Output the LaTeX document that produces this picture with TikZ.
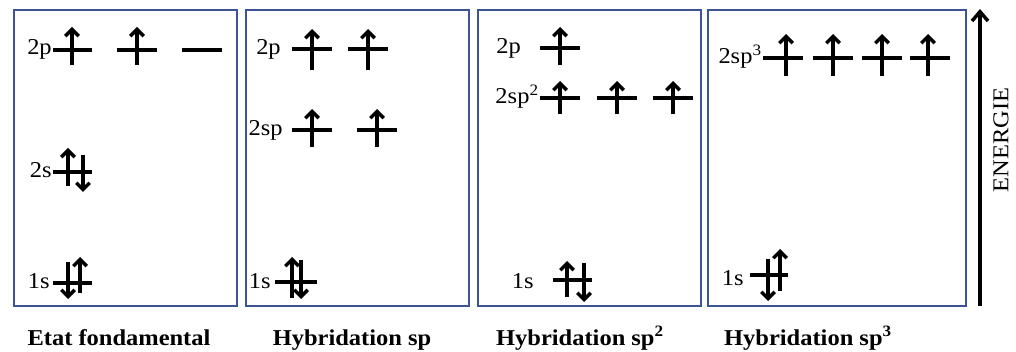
\documentclass[tikz,border=0pt]{standalone}
\usepackage{fontspec}
\setmainfont{Liberation Serif}[FakeStretch=1.08]
\usetikzlibrary{arrows.meta}
\definecolor{BoxBlue}{HTML}{3C5396}

\begin{document}
\begin{tikzpicture}[x=0.75pt, y=-0.75pt, >={Straight Barb[length=5pt,width=10pt]},
  lvl/.style={line width=2.9pt},
  spin/.style={line width=2.6pt, ->},
  box/.style={draw=BoxBlue, line width=1.3pt},
  lbl/.style={font=\fontsize{17}{20}\selectfont, anchor=base east, inner sep=0pt},
  ttl/.style={font=\fontsize{17}{20}\selectfont\bfseries, anchor=base, inner sep=0pt}]
  \useasboundingbox (0,0) rectangle (1016,352);
  % Boxes
  \draw[box] (14,10) rectangle (237,306);
  \draw[box] (246,10) rectangle (469,306);
  \draw[box] (478,10) rectangle (701,306);
  \draw[box] (708,10) rectangle (966,306);
  % Energy axis
  \coordinate (ebot) at (980,306);
  \coordinate (etop) at (980,9);
  \draw[line width=2.6pt, -{Straight Barb[length=7pt,width=12pt]}] (ebot) -- (etop);
  \node[rotate=90, font=\fontsize{17}{20}\selectfont] (energie) at (1001,140) {ENERGIE};

  % --- Etat fondamental ---
  \node[lbl] (fp) at (52,55) {2p};
  \draw[lvl] (53,50) -- (92,50);
  \draw[lvl] (117,50) -- (157,50);
  \draw[lvl] (182,50) -- (222,50);
  \draw[spin] (72,65) -- (72,27);
  \draw[spin] (137,65) -- (137,27);
  \node[lbl] (fs2) at (52,178) {2s};
  \draw[lvl] (53,172) -- (92,172);
  \draw[spin] (68,186) -- (68,148);
  \draw[spin] (83,155) -- (83,192);
  \node[lbl] (fs1) at (50,289) {1s};
  \draw[lvl] (53,283) -- (92,283);
  \draw[spin] (68,262) -- (68,299);
  \draw[spin] (80,293) -- (80,257);
  \node[ttl] (tfond) at (119,345) {Etat fondamental};

  % --- Hybridation sp ---
  \node[lbl] (sp) at (281,55) {2p};
  \draw[lvl] (292,49) -- (332,49);
  \draw[lvl] (348,49) -- (388,49);
  \draw[spin] (312,70) -- (312,29);
  \draw[spin] (368,70) -- (368,29);
  \node[lbl] (sphy) at (283,136) {2sp};
  \draw[lvl] (292,130) -- (332,130);
  \draw[lvl] (357,130) -- (397,130);
  \draw[spin] (312,147) -- (312,109);
  \draw[spin] (377,147) -- (377,109);
  \node[lbl] (ss1) at (271,289) {1s};
  \draw[lvl] (275,282) -- (317,282);
  \draw[spin] (292,298) -- (292,257);
  \draw[spin] (301,260) -- (301,299);
  \node[ttl] (tsp) at (352,345) {Hybridation sp};

  % --- Hybridation sp2 ---
  \node[lbl] (dp) at (521,54) {2p};
  \draw[lvl] (540,48) -- (580,48);
  \draw[spin] (560,65) -- (560,27);
  \node[lbl] (dhy) at (539,104) {2sp\textsuperscript{2}};
  \draw[lvl] (540,98) -- (580,98);
  \draw[lvl] (597,98) -- (637,98);
  \draw[lvl] (653,98) -- (693,98);
  \draw[spin] (560,114) -- (560,81);
  \draw[spin] (617,114) -- (617,81);
  \draw[spin] (673,114) -- (673,81);
  \node[lbl] (ds1) at (534,289) {1s};
  \draw[lvl] (553,280) -- (592,280);
  \draw[spin] (567,297) -- (567,261);
  \draw[spin] (584,263) -- (584,302);
  \node[ttl] (tsp2) at (580,345) {Hybridation sp\textsuperscript{2}};

  % --- Hybridation sp3 ---
  \node[lbl] (thy) at (762,64) {2sp\textsuperscript{3}};
  \draw[lvl] (763,58) -- (803,58);
  \draw[lvl] (813,58) -- (853,58);
  \draw[lvl] (862,58) -- (902,58);
  \draw[lvl] (910,58) -- (950,58);
  \draw[spin] (786,76) -- (786,34);
  \draw[spin] (833,76) -- (833,34);
  \draw[spin] (882,76) -- (882,34);
  \draw[spin] (928,76) -- (928,34);
  \node[lbl] (ts1) at (744,286) {1s};
  \draw[lvl] (750,275) -- (788,275);
  \draw[spin] (768,259) -- (768,301);
  \draw[spin] (780,291) -- (780,249);
  \node[ttl] (tsp3) at (808,345) {Hybridation sp\textsuperscript{3}};
\end{tikzpicture}
\end{document}
